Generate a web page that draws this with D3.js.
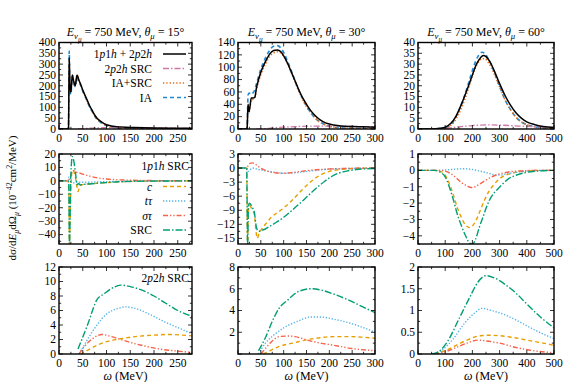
<!DOCTYPE html>
<html>
<head>
<meta charset="utf-8">
<script src="https://cdn.jsdelivr.net/npm/d3@7"></script>
<style>
  body { margin: 0; background: #fff; }
  svg, svg text { font-family: "Liberation Serif", "DejaVu Serif", "Times New Roman", serif; }
</style>
</head>
<body>
<svg id="chart" width="568" height="382" font-family="Liberation Serif, DejaVu Serif, serif"></svg>
<script>
// ---- data: [omega (MeV), dsigma] ----
// row 1: full cross sections
const full15 = [[0,0],[19,0],[20,5],[21.5,330],[23,200],[25,170],[28,250],[31,220],[34,200],[38,250],[42,225],[46,205],[50,180],[55,155],[60,130],[65,105],[70,85],[75,65],[80,50],[90,32],[100,20],[110,14],[120,11],[140,8],[160,7],[200,5],[240,4],[280,3]];
const ia15 = [[0,0],[19,0],[20,5],[21.5,360],[23,180],[25,160],[28,240],[31,210],[34,195],[38,240],[42,215],[46,200],[50,175],[55,150],[60,125],[65,100],[70,80],[75,60],[80,45],[90,27],[100,15],[110,9],[120,6],[140,3],[160,2],[200,1],[280,0.5]];
const iasrc15 = [[0,0],[19,0],[20,5],[21.5,320],[23,190],[25,170],[28,250],[31,220],[34,200],[38,250],[42,222],[46,203],[50,178],[55,152],[60,127],[65,102],[70,82],[75,62],[80,47],[90,29],[100,17],[110,10],[120,7],[140,4],[160,2.5],[200,1],[280,0.5]];
const mec15 = [[40,0],[50,1],[60,3],[80,5],[100,6],[120,6.5],[150,6],[200,4.5],[250,3.3],[280,2.8]];

const full30 = [[0,0],[19,0],[20,2],[22,40],[24,28],[26,35],[29,50],[33,50],[37,52],[40,65],[45,80],[50,92],[56,103],[62,112],[70,122],[78,127],[86,128],[94,125],[102,116],[110,104],[118,90],[126,76],[134,62],[142,50],[150,40],[158,31],[166,24],[176,17],[186,12],[200,8],[225,5],[250,4],[275,3.5],[300,3]];
const ia30 = [[0,0],[19,0],[20,2],[22,55],[25,58],[28,56],[32,58],[36,62],[40,72],[45,85],[50,97],[56,108],[62,118],[70,128],[78,134],[86,135],[94,131],[102,121],[110,107],[118,92],[126,76],[134,61],[142,48],[150,37],[158,28],[166,20],[176,13],[186,8.5],[200,4.5],[225,2],[250,1],[300,0.3]];
const iasrc30 = [[0,0],[19,0],[20,2],[22,38],[24,27],[26,33],[29,47],[33,48],[37,50],[40,62],[45,77],[50,88],[56,99],[62,108],[70,118],[78,123],[86,125],[94,123],[102,115],[110,103],[118,89],[126,74],[134,60],[142,47],[150,36],[158,27],[166,20],[176,13],[186,8.5],[200,4.5],[225,2],[250,1],[300,0.3]];
const mec30 = [[40,0],[60,0.5],[80,2],[100,3],[130,4],[160,4.6],[200,4.8],[240,4.4],[270,3.8],[300,3.2]];

const full60 = [[0,0],[50,0],[80,0.3],[100,0.8],[120,2.5],[140,6],[160,11.5],[180,18],[200,25],[215,30],[230,33],[240,34],[250,33.5],[265,31],[280,27],[300,21],[320,15.5],[340,11],[360,7.5],[380,5],[400,3.3],[430,2],[460,1.2],[500,0.7]];
const ia60 = [[0,0],[60,0],[90,0.3],[110,1],[130,3.5],[150,8.5],[170,15],[190,23],[205,29],[220,33.5],[235,35.5],[245,35],[260,32],[275,28],[290,23],[305,18],[320,13.5],[340,9],[360,5.5],[380,3.3],[400,2],[430,1],[460,0.5],[500,0.2]];
const iasrc60 = [[0,0],[60,0],[90,0.2],[110,0.8],[130,2.8],[150,7],[170,13],[190,20.5],[205,26.5],[220,30.5],[235,32.5],[245,32.5],[260,30.5],[275,27],[290,22.5],[305,18],[320,13.5],[340,9],[360,5.5],[380,3.3],[400,2],[430,1],[460,0.5],[500,0.2]];
const mec60 = [[60,0],[100,0.3],[150,1],[200,1.6],[250,1.9],[300,1.8],[350,1.5],[400,1.2],[450,0.9],[500,0.7]];

// row 2: 1p1h SRC pieces
const c15 = [[0,0],[19,0],[20.5,-2],[22,-47],[23.5,-30],[25,-5],[28,8],[31,7],[35,2],[38,-5],[40,-8],[43,-5],[47,-3],[55,-2.5],[70,-2],[90,-1.5],[110,-1],[140,-0.5],[180,-0.2],[280,0]];
const tt15 = [[0,0],[19,0],[21,3],[23,2],[26,-1],[30,-1.5],[40,-1],[60,-1],[80,-0.8],[100,-0.6],[140,-0.3],[200,-0.1],[280,0]];
const st15 = [[0,0],[19,0],[21,1],[24,3],[28,7],[32,7.5],[36,6.5],[42,6],[50,5],[60,4],[70,3],[85,2],[100,1.4],[120,0.9],[150,0.5],[200,0.2],[280,0]];
const src15 = [[0,0],[19,0],[20.5,-2],[22,-47],[23.5,-25],[25,5],[28,18],[31,15],[35,5],[38,-3],[41,-2],[45,-3],[55,-2.5],[70,-2.2],[90,-1.5],[110,-1],[140,-0.5],[180,-0.2],[280,0]];

const c30 = [[0,0],[19,0],[21,-16.5],[23,-9],[25,-8],[28,-8.3],[32,-9],[36,-10],[39,-13],[42,-15],[46,-14],[52,-13],[60,-12],[73,-10.5],[95,-8.9],[114,-7.3],[135,-5.2],[157,-3.1],[180,-1.5],[200,-0.7],[225,-0.3],[250,-0.1],[300,0]];
const tt30 = [[0,0],[19,0],[22,-0.7],[26,-0.4],[32,0],[38,-0.1],[45,-0.3],[60,-0.6],[80,-0.9],[100,-1.1],[120,-1.05],[140,-0.85],[165,-0.55],[190,-0.3],[220,-0.15],[260,-0.05],[300,0]];
const st30 = [[0,0],[19,0],[22,0.5],[26,1],[32,1.1],[38,0.8],[45,0.3],[55,-0.3],[70,-0.8],[85,-1.05],[100,-1.1],[115,-1],[135,-0.75],[160,-0.45],[190,-0.25],[220,-0.12],[260,-0.05],[300,0]];
const src30 = [[0,0],[19,0],[21,-16.5],[23,-8],[25,-7.5],[28,-7.8],[32,-8.5],[36,-9.5],[40,-12.5],[45,-13.5],[52,-13.3],[60,-13],[70,-12.4],[85,-11.5],[100,-10.5],[115,-9.3],[130,-8],[145,-6.7],[160,-5.3],[175,-4],[190,-2.8],[205,-1.8],[220,-1.1],[240,-0.6],[260,-0.3],[300,-0.1]];

const c60 = [[0,0],[60,0],[80,-0.05],[100,-0.3],[115,-0.8],[130,-1.5],[145,-2.3],[160,-2.9],[175,-3.35],[190,-3.5],[200,-3.4],[215,-3],[230,-2.4],[245,-1.8],[260,-1.3],[280,-0.85],[300,-0.5],[330,-0.25],[360,-0.12],[400,-0.04],[450,0],[500,0]];
const tt60 = [[0,0],[80,0],[110,0.04],[140,0.08],[170,0.1],[200,0.05],[230,-0.05],[260,-0.18],[285,-0.28],[305,-0.28],[330,-0.2],[360,-0.12],[400,-0.05],[450,-0.01],[500,0]];
const st60 = [[0,0],[80,0],[100,-0.05],[120,-0.2],[140,-0.45],[160,-0.75],[180,-0.95],[195,-1.05],[210,-1],[225,-0.85],[245,-0.65],[265,-0.45],[285,-0.3],[310,-0.18],[340,-0.08],[380,-0.03],[450,0],[500,0]];
const src60 = [[0,0],[60,0],[80,-0.1],[100,-0.4],[115,-1],[130,-1.8],[145,-2.7],[160,-3.4],[175,-4],[190,-4.45],[200,-4.5],[212,-4.2],[225,-3.5],[240,-2.8],[255,-2.1],[270,-1.6],[290,-1.2],[310,-0.85],[330,-0.55],[360,-0.3],[400,-0.12],[450,-0.03],[500,0]];

// row 3: 2p2h SRC pieces
const c15b = [[45,0],[60,0.5],[80,1.2],[100,1.7],[130,2.1],[160,2.4],[200,2.6],[230,2.7],[260,2.6],[280,2.5]];
const tt15b = [[42,0],[45,0.3],[60,2],[80,4],[100,5.5],[125,6.3],[140,6.5],[160,6.3],[190,5.5],[220,4.5],[255,3.5],[280,2.8]];
const st15b = [[42,0],[45,0.3],[60,1.5],[80,2.5],[90,2.7],[110,2.4],[130,2],[150,1.6],[180,1.1],[210,0.7],[250,0.4],[280,0.2]];
const src15b = [[40,0.7],[60,4],[80,7.5],[95,8.3],[110,9],[130,9.5],[150,9.3],[175,8.8],[200,8],[225,7],[250,6],[280,5.2]];

const c30b = [[55,0],[70,0.3],[90,0.7],[120,1],[150,1.3],[180,1.5],[210,1.6],[240,1.6],[270,1.55],[300,1.45]];
const tt30b = [[45,0],[60,1],[80,1.8],[100,2.4],[130,3],[160,3.4],[180,3.4],[210,3.2],[240,2.9],[270,2.5],[300,2]];
const st30b = [[50,0],[60,0.5],[75,1.2],[90,1.6],[110,1.65],[125,1.6],[150,1.3],[175,1.05],[210,0.8],[250,0.5],[300,0.3]];
const src30b = [[45,0.3],[60,1.5],[75,3],[90,4.2],[110,5],[130,5.7],[160,6],[180,5.9],[210,5.5],[240,5],[270,4.4],[300,3.8]];

const c60b = [[60,0],[100,0.08],[140,0.2],[180,0.32],[230,0.42],[260,0.43],[300,0.42],[350,0.38],[400,0.32],[460,0.25],[500,0.2]];
const tt60b = [[60,0],[90,0.1],[130,0.35],[170,0.7],[210,0.95],[235,1.05],[270,1],[320,0.9],[370,0.75],[430,0.55],[500,0.35]];
const st60b = [[60,0],[100,0.05],[140,0.15],[180,0.25],[220,0.32],[250,0.3],[300,0.25],[360,0.15],[420,0.08],[500,0.03]];
const src60b = [[50,0],[75,0.05],[110,0.3],[150,0.8],[190,1.3],[220,1.65],[250,1.8],[280,1.75],[320,1.6],[360,1.4],[400,1.15],[450,0.85],[500,0.6]];

// axes
const xDomains = [[0, 280], [0, 300], [0, 500]];
const xTicks = [[0, 50, 100, 150, 200, 250], [0, 50, 100, 150, 200, 250, 300], [0, 100, 200, 300, 400, 500]];
const yDomains = [[[0, 400], [0, 140], [0, 40]], [[-47, 20], [-16.2, 3], [-4.5, 1]], [[0, 12], [0, 8], [0, 2]]];
const yTicks = [
  [d3.range(0, 401, 50), d3.range(0, 141, 20), d3.range(0, 41, 5)],
  [d3.range(-40, 21, 10), d3.range(-15, 4, 3), d3.range(-4, 2, 1)],
  [d3.range(0, 13, 2), [2, 4, 6, 8], [0, 0.5, 1, 1.5, 2]]
];
const angles = [15, 30, 60];

// line styles
const sty = {
  full: { color: "#000000", dash: null, w: 1.5 },
  mec: { color: "#cc79a7", dash: "6,2,1.5,2", w: 1.3 },
  iasrc: { color: "#e66c16", dash: "1.3,2", w: 1.6 },
  ia: { color: "#1f8ad0", dash: "4,3", w: 1.6 },
  c: { color: "#e69f00", dash: "4,3", w: 1.4 },
  tt: { color: "#56b4e9", dash: "1.3,1.7", w: 1.4 },
  st: { color: "#f4634a", dash: "5,2,1.3,2,1.3,2", w: 1.4 },
  src: { color: "#009e73", dash: "7,2,1.5,2", w: 1.4 }
};

const series = [
  [[ia15, "ia"], [iasrc15, "iasrc"], [mec15, "mec"], [full15, "full"]],
  [[ia30, "ia"], [iasrc30, "iasrc"], [mec30, "mec"], [full30, "full"]],
  [[ia60, "ia"], [iasrc60, "iasrc"], [mec60, "mec"], [full60, "full"]]
];
const series2 = [
  [[c15, "c"], [tt15, "tt"], [st15, "st"], [src15, "src"]],
  [[c30, "c"], [tt30, "tt"], [st30, "st"], [src30, "src"]],
  [[c60, "c"], [tt60, "tt"], [st60, "st"], [src60, "src"]]
];
const series3 = [
  [[c15b, "c"], [tt15b, "tt"], [st15b, "st"], [src15b, "src"]],
  [[c30b, "c"], [tt30b, "tt"], [st30b, "st"], [src30b, "src"]],
  [[c60b, "c"], [tt60b, "tt"], [st60b, "st"], [src60b, "src"]]
];
const allRows = [series, series2, series3];

// layout
const cols = [[59, 192], [238, 375], [418, 554]];
const rows = [[42.5, 129], [154, 244], [267, 354]];
const FONT = "Liberation Serif, DejaVu Serif, serif";

const svg = d3.select("#chart");

/** write a text with italic / sub / sup parts as tspans */
function rich(sel, parts) {
  let cur = 0;
  sel.attr("font-family", FONT);
  parts.forEach(p => {
    const t = p[0], o = p[1] || {};
    const off = o.s === "sub" ? 3 : o.s === "sup" ? -4.5 : o.s === "subsub" ? 5.5 : 0;
    const ts = sel.append("tspan").attr("dy", off - cur).text(t);
    if (o.i) ts.style("font-style", "italic");
    if (o.s) ts.style("font-size", o.s === "subsub" ? "0.6em" : "0.72em");
    cur = off;
  });
  return sel;
}

allRows.forEach((rowSeries, r) => {
  rowSeries.forEach((panel, c) => {
    const [x0, x1] = cols[c], [y0, y1] = rows[r];
    const x = d3.scaleLinear().domain(xDomains[c]).range([x0, x1]);
    const y = d3.scaleLinear().domain(yDomains[r][c]).range([y1, y0]);
    const id = `clip${r}${c}`;
    svg.append("clipPath").attr("id", id).append("rect")
      .attr("x", x0).attr("y", y0).attr("width", x1 - x0).attr("height", y1 - y0);

    const g = svg.append("g");
    const line = d3.line().x(d => x(d[0])).y(d => y(d[1])).curve(d3.curveMonotoneX);
    g.append("g").attr("clip-path", `url(#${id})`)
      .selectAll("path").data(panel).join("path")
      .attr("d", d => line(d[0]))
      .attr("fill", "none")
      .attr("stroke", d => sty[d[1]].color)
      .attr("stroke-width", d => sty[d[1]].w)
      .attr("stroke-dasharray", d => sty[d[1]].dash);

    // ticks inward, mirrored on all four sides
    const xt = xTicks[c], yt = yTicks[r][c];
    const xStep = xt[1] - xt[0];
    const yStep = yt[1] - yt[0];
    const xMinor = d3.range(xDomains[c][0], xDomains[c][1] + 1e-9, xStep / 2);
    const yDom = yDomains[r][c];
    const yMinor = d3.range(Math.ceil(yDom[0] / (yStep / 2)) * (yStep / 2), yDom[1] + 1e-9, yStep / 2);
    const tk = g.append("g").attr("stroke", "#000").attr("stroke-width", 0.8);
    xMinor.forEach(v => {
      const major = Math.abs(v / xStep - Math.round(v / xStep)) < 1e-6;
      const L = major ? 4 : 2.2;
      tk.append("line").attr("x1", x(v)).attr("x2", x(v)).attr("y1", y1).attr("y2", y1 - L);
      tk.append("line").attr("x1", x(v)).attr("x2", x(v)).attr("y1", y0).attr("y2", y0 + L);
    });
    yMinor.forEach(v => {
      const major = Math.abs(v / yStep - Math.round(v / yStep)) < 1e-6;
      const L = major ? 4 : 2.2;
      tk.append("line").attr("y1", y(v)).attr("y2", y(v)).attr("x1", x0).attr("x2", x0 + L);
      tk.append("line").attr("y1", y(v)).attr("y2", y(v)).attr("x1", x1).attr("x2", x1 - L);
    });

    g.append("rect").attr("x", x0).attr("y", y0).attr("width", x1 - x0).attr("height", y1 - y0)
      .attr("fill", "none").attr("stroke", "#000").attr("stroke-width", 1.4);

    // tick labels
    g.selectAll("text.xl").data(xt).join("text").attr("class", "xl")
      .attr("x", d => x(d)).attr("y", y1 + 12.5).attr("font-family", FONT)
      .attr("text-anchor", "middle").attr("font-size", 11.5).text(d => d);
    g.selectAll("text.yl").data(yt).join("text").attr("class", "yl")
      .attr("x", x0 - 3).attr("y", d => y(d) + 3.8).attr("font-family", FONT)
      .attr("text-anchor", "end").attr("font-size", 11.5)
      .text(d => d < 0 ? "\u2212" + Math.abs(d) : d);

    if (r === 0) {
      const t = g.append("text").attr("x", (x0 + x1) / 2).attr("y", 36)
        .attr("text-anchor", "middle").attr("font-size", 12);
      rich(t, [["E", { i: 1 }], ["\u03bd", { s: "sub", i: 1 }], ["\u03bc", { s: "subsub", i: 1 }],
        [" = 750 MeV, "], ["\u03b8", { i: 1 }], ["\u03bc", { s: "sub", i: 1 }], [` = ${angles[c]}\u00b0`]]);
    }
    if (r === 2) {
      const t = g.append("text").attr("x", (x0 + x1) / 2).attr("y", 380)
        .attr("text-anchor", "middle").attr("font-size", 12);
      rich(t, [["\u03c9", { i: 1 }], [" (MeV)"]]);
    }
  });
});

// legends (left column)
function legendRow(yy, key, parts) {
  const t = svg.append("text").attr("x", 152).attr("y", yy + 4)
    .attr("text-anchor", "end").attr("font-size", 11.5);
  rich(t, parts);
  svg.append("line").attr("x1", 163).attr("x2", 186).attr("y1", yy).attr("y2", yy)
    .attr("stroke", sty[key].color).attr("stroke-width", sty[key].w)
    .attr("stroke-dasharray", sty[key].dash);
}
legendRow(54, "full", [["1"], ["p", { i: 1 }], ["1"], ["h", { i: 1 }], [" + 2"], ["p", { i: 1 }], ["2"], ["h", { i: 1 }]]);
legendRow(68.5, "mec", [["2"], ["p", { i: 1 }], ["2"], ["h", { i: 1 }], [" SRC"]]);
legendRow(83, "iasrc", [["IA+SRC"]]);
legendRow(97.5, "ia", [["IA"]]);

rich(svg.append("text").attr("x", 189).attr("y", 170).attr("text-anchor", "end").attr("font-size", 11.5),
  [["1"], ["p", { i: 1 }], ["1"], ["h", { i: 1 }], [" SRC"]]);
legendRow(186.5, "c", [["c", { i: 1 }]]);
legendRow(201, "tt", [["t\u03c4", { i: 1 }]]);
legendRow(215.5, "st", [["\u03c3\u03c4", { i: 1 }]]);
legendRow(230, "src", [["SRC"]]);

rich(svg.append("text").attr("x", 189).attr("y", 282).attr("text-anchor", "end").attr("font-size", 11.5),
  [["2"], ["p", { i: 1 }], ["2"], ["h", { i: 1 }], [" SRC"]]);

// y label
const yl = svg.append("text").attr("transform", "translate(16,198) rotate(-90)")
  .attr("text-anchor", "middle").attr("font-size", 11);
rich(yl, [["d\u03c3/d"], ["E", { i: 1 }], ["\u03bc", { s: "sub", i: 1 }], ["d\u03a9"], ["\u03bc", { s: "sub", i: 1 }],
  [" (10"], ["\u221242", { s: "sup" }], ["cm"], ["2", { s: "sup" }], ["/MeV)"]]);
</script>
</body>
</html>
